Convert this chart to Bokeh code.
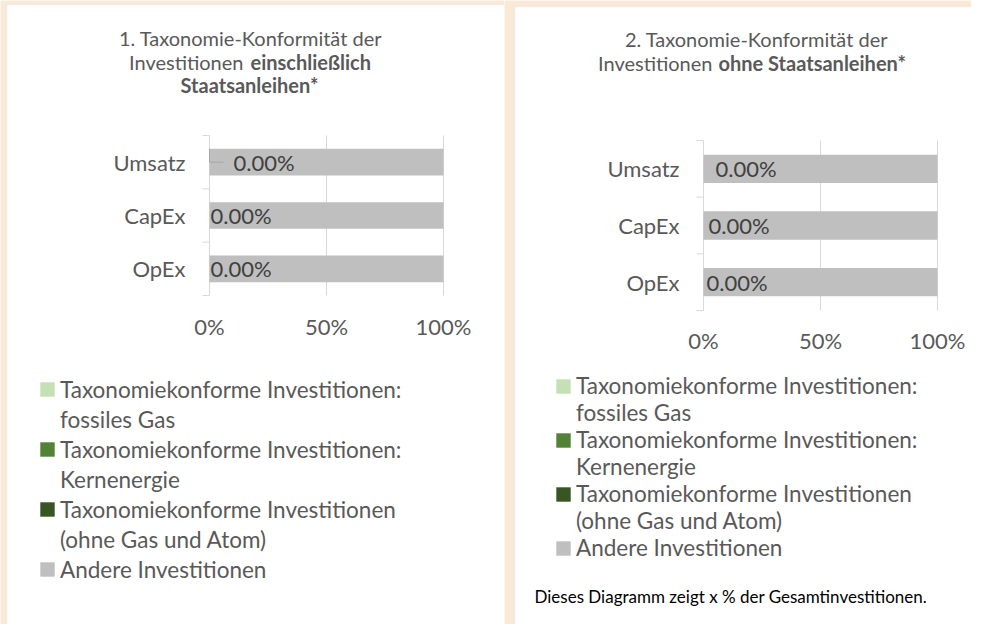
from bokeh.plotting import figure
from bokeh.models import ColumnDataSource, Range1d, Label, Legend, LegendItem, BoxAnnotation
from bokeh.layouts import row
from bokeh.embed import file_html
from bokeh.resources import INLINE
from bokeh.core.properties import value

# ---------------- data ----------------
categories = ["Umsatz", "CapEx", "OpEx"]
# legend entries: each series label, split into its printed lines
series_labels = [
    ["Taxonomiekonforme Investitionen:", "fossiles Gas"],
    ["Taxonomiekonforme Investitionen:", "Kernenergie"],
    ["Taxonomiekonforme Investitionen", "(ohne Gas und Atom)"],
    ["Andere Investitionen"],
]
# chart 1: incl. sovereign bonds (percent)
c1_gas = [0.0, 0.0, 0.0]
c1_nuclear = [0.0, 0.0, 0.0]
c1_aligned = [0.0, 0.0, 0.0]
c1_other = [100.0, 100.0, 100.0]
# chart 2: excl. sovereign bonds (percent)
c2_gas = [0.0, 0.0, 0.0]
c2_nuclear = [0.0, 0.0, 0.0]
c2_aligned = [0.0, 0.0, 0.0]
c2_other = [100.0, 100.0, 100.0]

x_ticks = [0, 50, 100]
x_tick_labels = ["0%", "50%", "100%"]
title1 = [[("1. Taxonomie-Konformität der", False)],
          [("Investitionen", False), ("einschließlich", True)],
          [("Staatsanleihen*", True)]]
title2 = [[("2. Taxonomie-Konformität der", False)],
          [("Investitionen", False), ("ohne Staatsanleihen*", True)]]
footnote2 = "Dieses Diagramm zeigt x % der Gesamtinvestitionen."

# ---------------- styles ----------------
colors = ["#C5E0B4", "#548235", "#375623", "#BFBFBF"]
FONT = "Lato"
GREY_TXT = "#595959"
DARK_TXT = "#404040"
LINE = "#D9D9D9"
PEACH = "#FBE9D8"


def make_panel(ox, W, H, box, frame, gas, nuc, ali, oth, title, tgeo,
               lab_off, xlab_off, leg, footnote=None, leader=False):
    # all geometry given in page pixels; ox = page x of this figure
    fx0, fx1, fy0, fy1 = frame
    fw, fh = fx1 - fx0, fy1 - fy0
    n = len(categories)

    def xd(px):
        return (px - fx0) / fw * 100.0

    def yd(py):
        return (fy1 - py) / fh * n

    p = figure(width=W, height=H,
               x_range=Range1d(xd(ox), xd(ox + W)), y_range=Range1d(yd(H), yd(0)),
               min_border=0, output_backend="svg", toolbar_location=None,
               background_fill_color=PEACH, border_fill_color=PEACH)
    p.outline_line_color = None
    p.xaxis.visible = False
    p.yaxis.visible = False
    p.grid.visible = False

    # white panel
    bx0, by0 = box
    p.add_layout(BoxAnnotation(left=xd(bx0), right=xd(ox + W + 50), top=yd(by0),
                               bottom=yd(H + 50), fill_color="white", fill_alpha=1,
                               line_color=LINE, line_width=2, level="underlay"))

    ys = [n - i - 0.5 for i in range(n)]

    # gridlines / axis line / category tick marks
    gsrc = ColumnDataSource(dict(x=x_ticks, y0=[0] * len(x_ticks), y1=[n] * len(x_ticks)))
    p.segment(x0="x", y0="y0", x1="x", y1="y1", source=gsrc, line_color=LINE, line_width=1)
    tick_len = 7 * 100.0 / fw
    tsrc = ColumnDataSource(dict(x0=[-tick_len] * (n + 1), x1=[0] * (n + 1), y=list(range(n + 1))))
    p.segment(x0="x0", y0="y", x1="x1", y1="y", source=tsrc, line_color=LINE, line_width=1)

    # bars
    tot = [g + k + a for g, k, a in zip(gas, nuc, ali)]
    src = ColumnDataSource(dict(y=ys, gas=gas, nuc=nuc, ali=ali, oth=oth, tot=tot,
                                cat=categories, zero=[0] * n,
                                lbl=["%.2f%%" % v for v in tot], xoff=lab_off))
    rs = p.hbar_stack(["gas", "nuc", "ali", "oth"], y="y", height=0.5, color=colors,
                      line_color=None, source=src)

    # category labels
    p.text(x="zero", y="y", text="cat", x_offset=-24, source=src,
           text_font=value(FONT), text_font_size="22px", text_color=GREY_TXT,
           text_baseline="middle", text_align="right")
    # x tick labels
    xsrc = ColumnDataSource(dict(x=x_ticks, y=[0] * len(x_ticks), t=x_tick_labels))
    p.text(x="x", y="y", text="t", y_offset=xlab_off, source=xsrc,
           text_font=value(FONT), text_font_size="22px", text_color=GREY_TXT,
           text_baseline="middle", text_align="center")

    # data labels
    p.text(x="tot", y="y", text="lbl", x_offset="xoff", source=src,
           text_font=value(FONT), text_font_size="22px", text_color=DARK_TXT,
           text_baseline="middle", text_align="left")
    if leader:
        i = 0
        x1 = (lab_off[i] - 10) * 100.0 / fw
        p.line(x=[tot[i], tot[i], tot[i] + x1], y=[ys[i] + 0.25, ys[i], ys[i]],
               line_color="#A6A6A6", line_width=1)

    # title
    def lab(x, y, t, align, bold, size="20px", color=GREY_TXT):
        p.add_layout(Label(x=x, y=y, text=t, text_align=align,
                           text_baseline="middle", text_font=FONT,
                           text_font_size=size, text_color=color,
                           text_font_style="bold" if bold else "normal"))

    for line, (cy, spec) in zip(title, tgeo):
        if len(line) == 1:
            txt, bold = line[0]
            lab(xd(spec), yd(cy), txt, "center", bold)
        else:
            (t1, b1), (t2, b2) = line
            xl, xr = spec
            lab(xd(xl), yd(cy), t1, "right", b1)
            lab(xd(xr), yd(cy), t2, "left", b2)

    # legend (one row per printed line; the swatch sits on the first line)
    lx, first_center, stride = leg
    items = []
    for lines, r in zip(series_labels, rs):
        items.append(LegendItem(label=lines[0], renderers=[r]))
        for extra in lines[1:]:
            items.append(LegendItem(label=extra, renderers=[]))
    top = first_center - stride // 2
    bottom = top + stride * len(items)
    legend = Legend(items=items, location=(int(lx - 2 - ox), int(H - bottom)),
                    orientation="vertical",
                    label_text_font=FONT, label_text_font_size="22.5px",
                    label_text_color=GREY_TXT, label_text_baseline="middle",
                    glyph_width=18, glyph_height=18, label_standoff=4,
                    label_height=stride, padding=0, margin=0, spacing=0,
                    border_line_color=None, background_fill_alpha=0)
    p.add_layout(legend)

    if footnote:
        ftx, fty = footnote[1]
        lab(xd(ftx), yd(fty), footnote[0], "left", False, size="17px", color="#000000")
    return p


p1 = make_panel(0, 504, 624, (6, 4), (209, 443, 135, 295),
                c1_gas, c1_nuclear, c1_aligned, c1_other, title1,
                [(37.5, 250), (61, (243, 250)), (84.5, 249)],
                [24, 1, 1], 31, (40, 389, 30), leader=True)
p2 = make_panel(504, 467, 624, (514, 6), (703, 937, 140, 310),
                c2_gas, c2_nuclear, c2_aligned, c2_other, title2,
                [(38, 756), (62, (712, 718))],
                [12, 5, 3], 30, (556, 385, 27),
                footnote=(footnote2, (534, 596)))

layout = row(p1, p2, spacing=0)

open("out.html", "w").write(file_html(layout, INLINE))
